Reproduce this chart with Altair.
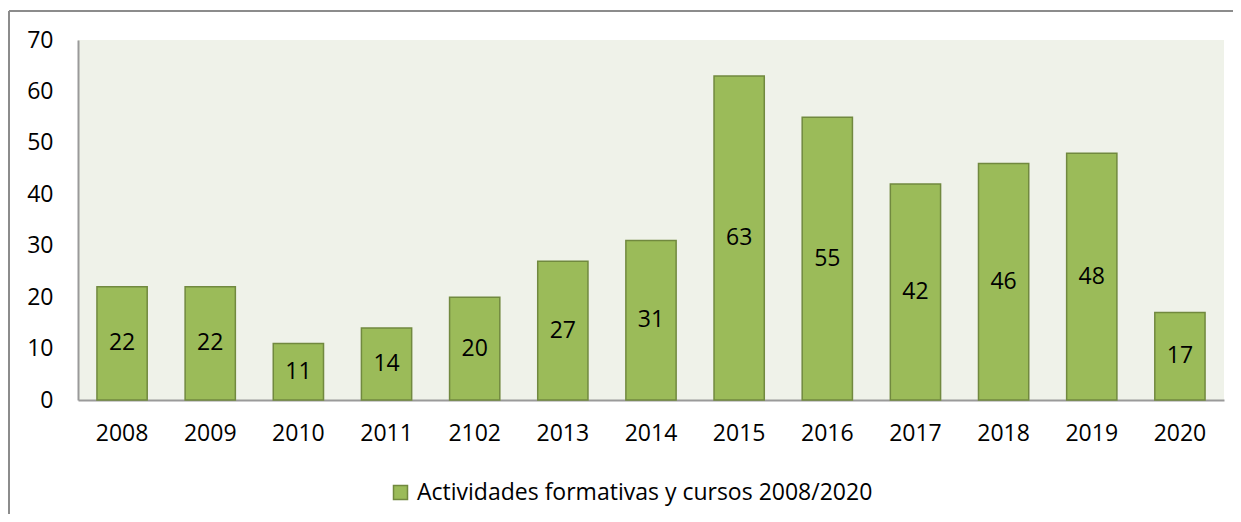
import altair as alt
import pandas as pd

years = ["2008", "2009", "2010", "2011", "2102", "2013", "2014", "2015", "2016", "2017", "2018", "2019", "2020"]
values = [22, 22, 11, 14, 20, 27, 31, 63, 55, 42, 46, 48, 17]
series_name = "Actividades formativas y cursos 2008/2020"

df = pd.DataFrame({"year": years, "value": values, "serie": [series_name] * len(years)})

FONT = "Open Sans"
FS = 23
W, H = 1146, 360

x = alt.X("year:N", sort=None, title=None,
          scale=alt.Scale(paddingInner=0.43, paddingOuter=0.215),
          axis=alt.Axis(labelAngle=0, ticks=False, domainColor="#9a9a9a", domainWidth=2,
                        labelFont=FONT, labelFontSize=FS, labelColor="#000000", labelPadding=22))
y = alt.Y("value:Q", title=None,
          scale=alt.Scale(domain=[0, 70], nice=False),
          axis=alt.Axis(values=list(range(0, 71, 10)), ticks=False, grid=False, domainColor="#9a9a9a",
                        domainWidth=2, labelFont=FONT, labelFontSize=FS, labelColor="#000000",
                        labelPadding=25))

bars = alt.Chart(df).mark_bar(stroke="#71893F", strokeWidth=1.5).encode(
    x=x, y=y,
    color=alt.Color("serie:N", title=None,
                    scale=alt.Scale(range=["#9BBB59"]),
                    legend=alt.Legend(orient="none", legendX=311, legendY=441,
                                      symbolType="square", symbolSize=196,
                                      symbolStrokeColor="#71893F", symbolStrokeWidth=1.5,
                                      labelFont=FONT, labelFontSize=FS, labelColor="#000000",
                                      labelLimit=800, symbolOffset=0, labelOffset=5))
)

labels = alt.Chart(df).transform_calculate(mid="datum.value / 2").mark_text(
    font=FONT, fontSize=FS, color="#000000", baseline="middle"
).encode(x=alt.X("year:N", sort=None), y=alt.Y("mid:Q"), text="value:Q")

border_top = alt.Chart(df).mark_rule(color="#8c8c8c", strokeWidth=2).encode(
    x=alt.value(-69), x2=alt.value(1170), y=alt.value(-29))
border_left = alt.Chart(df).mark_rule(color="#8c8c8c", strokeWidth=2).encode(
    x=alt.value(-69), y=alt.value(-29), y2=alt.value(490))

chart = alt.layer(bars, labels, border_top, border_left).properties(
    width=W, height=H,
    autosize=alt.AutoSizeParams(type="none"),
    padding={"left": 70, "top": 32, "right": 9, "bottom": 114},
    background="#ffffff",
).configure_view(fill="#EFF2E9", stroke=None)

chart.save("out.html", embed_options={"renderer": "svg", "actions": False})
